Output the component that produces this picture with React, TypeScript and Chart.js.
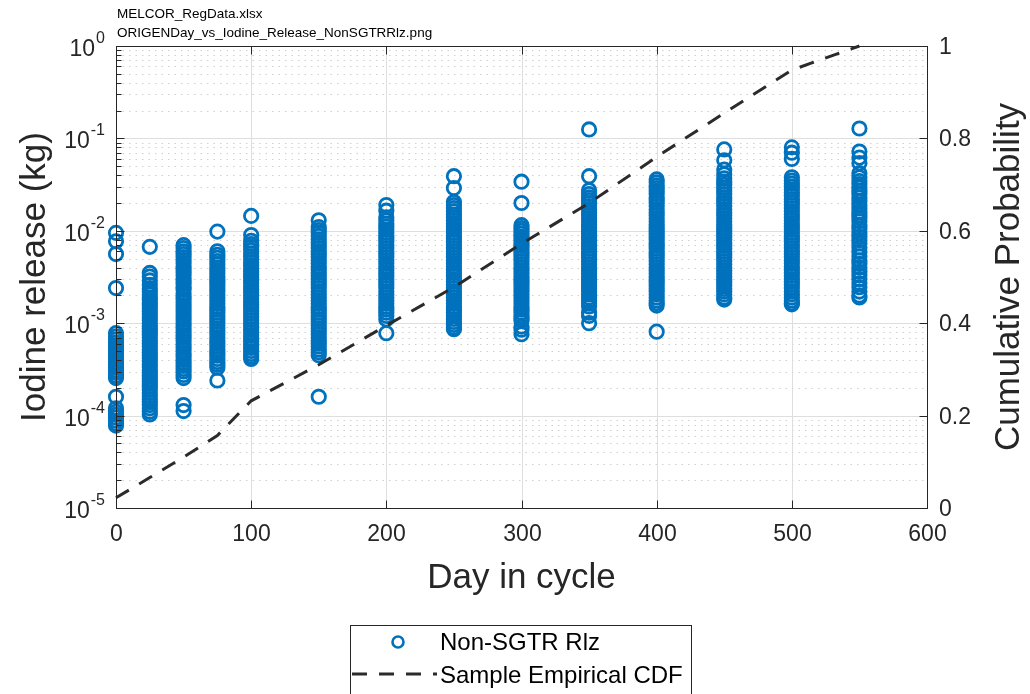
import React, { useEffect, useRef } from 'react';
import { Chart, registerables } from 'chart.js';

Chart.register(...registerables);

// ---------------- data ----------------
const days = [0, 25, 50, 75, 100, 150, 200, 250, 300, 350, 400, 450, 500, 550];

const rel000 = [9.5e-3, 7.7e-3, 5.6e-3, 2.4e-3, 7.8e-4, 7.2e-4, 6.7e-4, 6.2e-4, 5.8e-4, 5.4e-4, 5.0e-4, 4.7e-4, 4.4e-4, 4.1e-4, 3.8e-4, 3.55e-4, 3.3e-4, 3.1e-4, 2.9e-4, 2.7e-4, 2.55e-4, 1.6e-4, 1.2e-4, 1.1e-4, 1.02e-4, 9.5e-5, 8.8e-5, 8.2e-5, 7.8e-5];
const rel025 = [6.7e-3, 3.5e-3, 3.2e-3, 2.9e-3, 2.6e-3, 2.35e-3, 2.2e-3, 2.05e-3, 1.9e-3, 1.78e-3, 1.65e-3, 1.55e-3, 1.45e-3, 1.35e-3, 1.25e-3, 1.16e-3, 1.08e-3, 1.0e-3, 9.3e-4, 8.7e-4, 8.1e-4, 7.5e-4, 7.0e-4, 6.5e-4, 6.0e-4, 5.6e-4, 5.2e-4, 4.8e-4, 4.5e-4, 4.2e-4, 3.9e-4, 3.6e-4, 3.35e-4, 3.1e-4, 2.9e-4, 2.7e-4, 2.5e-4, 2.35e-4, 2.2e-4, 2.05e-4, 1.9e-4, 1.75e-4, 1.62e-4, 1.5e-4, 1.4e-4, 1.3e-4, 1.2e-4, 1.1e-4, 1.03e-4];
const rel050 = [7.0e-3, 6.5e-3, 6.0e-3, 5.6e-3, 5.2e-3, 4.8e-3, 4.45e-3, 4.1e-3, 3.8e-3, 3.55e-3, 3.3e-3, 3.05e-3, 2.85e-3, 2.65e-3, 2.45e-3, 2.3e-3, 2.1e-3, 1.95e-3, 1.8e-3, 1.68e-3, 1.56e-3, 1.45e-3, 1.35e-3, 1.25e-3, 1.16e-3, 1.08e-3, 1.0e-3, 9.3e-4, 8.6e-4, 8.0e-4, 7.4e-4, 6.9e-4, 6.4e-4, 5.9e-4, 5.5e-4, 5.1e-4, 4.7e-4, 4.35e-4, 4.0e-4, 3.7e-4, 3.45e-4, 3.2e-4, 3.0e-4, 2.75e-4, 2.55e-4, 1.3e-4, 1.12e-4];
const rel075 = [9.8e-3, 6.0e-3, 5.5e-3, 5.1e-3, 4.7e-3, 4.35e-3, 4.0e-3, 3.7e-3, 3.45e-3, 3.2e-3, 2.95e-3, 2.75e-3, 2.55e-3, 2.35e-3, 2.2e-3, 2.05e-3, 1.9e-3, 1.76e-3, 1.63e-3, 1.5e-3, 1.4e-3, 1.3e-3, 1.2e-3, 1.11e-3, 1.03e-3, 9.5e-4, 8.8e-4, 8.2e-4, 7.6e-4, 7.0e-4, 6.5e-4, 6.0e-4, 5.6e-4, 5.2e-4, 4.8e-4, 4.45e-4, 4.1e-4, 3.8e-4, 3.55e-4, 3.3e-4, 2.4e-4];
const rel100 = [1.45e-2, 9.0e-3, 7.8e-3, 7.2e-3, 6.7e-3, 6.2e-3, 5.7e-3, 5.3e-3, 4.9e-3, 4.55e-3, 4.2e-3, 3.9e-3, 3.6e-3, 3.35e-3, 3.1e-3, 2.9e-3, 2.7e-3, 2.5e-3, 2.3e-3, 2.15e-3, 2.0e-3, 1.85e-3, 1.7e-3, 1.58e-3, 1.47e-3, 1.36e-3, 1.26e-3, 1.17e-3, 1.08e-3, 1.0e-3, 9.3e-4, 8.6e-4, 8.0e-4, 7.4e-4, 6.8e-4, 6.3e-4, 5.8e-4, 5.4e-4, 5.0e-4, 4.65e-4, 4.35e-4, 4.1e-4];
const rel150 = [1.3e-2, 1.1e-2, 1.02e-2, 9.5e-3, 8.8e-3, 8.1e-3, 7.5e-3, 7.0e-3, 6.5e-3, 6.0e-3, 5.6e-3, 5.2e-3, 4.8e-3, 4.45e-3, 4.1e-3, 3.8e-3, 3.5e-3, 3.25e-3, 3.0e-3, 2.8e-3, 2.6e-3, 2.4e-3, 2.2e-3, 2.05e-3, 1.9e-3, 1.76e-3, 1.63e-3, 1.5e-3, 1.4e-3, 1.3e-3, 1.2e-3, 1.11e-3, 1.03e-3, 9.5e-4, 8.8e-4, 8.2e-4, 7.6e-4, 7.0e-4, 6.5e-4, 6.0e-4, 5.6e-4, 5.2e-4, 4.85e-4, 4.5e-4, 1.6e-4];
const rel200 = [1.9e-2, 1.65e-2, 1.4e-2, 1.3e-2, 1.2e-2, 1.11e-2, 1.03e-2, 9.5e-3, 8.8e-3, 8.2e-3, 7.6e-3, 7.0e-3, 6.5e-3, 6.0e-3, 5.6e-3, 5.2e-3, 4.8e-3, 4.45e-3, 4.1e-3, 3.8e-3, 3.5e-3, 3.25e-3, 3.0e-3, 2.8e-3, 2.6e-3, 2.4e-3, 2.2e-3, 2.05e-3, 1.9e-3, 1.76e-3, 1.63e-3, 1.5e-3, 1.4e-3, 1.3e-3, 1.2e-3, 1.1e-3, 7.8e-4];
const rel250 = [3.9e-2, 2.9e-2, 2.05e-2, 1.9e-2, 1.76e-2, 1.63e-2, 1.5e-2, 1.4e-2, 1.3e-2, 1.2e-2, 1.11e-2, 1.03e-2, 9.5e-3, 8.8e-3, 8.2e-3, 7.6e-3, 7.0e-3, 6.5e-3, 6.0e-3, 5.6e-3, 5.2e-3, 4.8e-3, 4.45e-3, 4.1e-3, 3.8e-3, 3.5e-3, 3.25e-3, 3.0e-3, 2.8e-3, 2.6e-3, 2.4e-3, 2.2e-3, 2.05e-3, 1.9e-3, 1.76e-3, 1.63e-3, 1.5e-3, 1.4e-3, 1.3e-3, 1.2e-3, 1.11e-3, 1.03e-3, 9.6e-4, 9.0e-4, 8.6e-4];
const rel300 = [3.4e-2, 2.0e-2, 1.15e-2, 1.07e-2, 1.0e-2, 9.3e-3, 8.6e-3, 8.0e-3, 7.4e-3, 6.9e-3, 6.4e-3, 5.9e-3, 5.5e-3, 5.1e-3, 4.7e-3, 4.35e-3, 4.0e-3, 3.7e-3, 3.45e-3, 3.2e-3, 2.95e-3, 2.75e-3, 2.55e-3, 2.35e-3, 2.2e-3, 2.05e-3, 1.9e-3, 1.76e-3, 1.63e-3, 1.5e-3, 1.4e-3, 1.3e-3, 1.2e-3, 1.12e-3, 1.06e-3, 9.2e-4, 8.5e-4, 7.6e-4];
const rel350 = [1.25e-1, 3.9e-2, 2.75e-2, 2.5e-2, 2.3e-2, 2.15e-2, 2.0e-2, 1.85e-2, 1.7e-2, 1.58e-2, 1.47e-2, 1.36e-2, 1.26e-2, 1.17e-2, 1.08e-2, 1.0e-2, 9.3e-3, 8.6e-3, 8.0e-3, 7.4e-3, 6.9e-3, 6.4e-3, 5.9e-3, 5.5e-3, 5.1e-3, 4.7e-3, 4.35e-3, 4.0e-3, 3.7e-3, 3.45e-3, 3.2e-3, 2.95e-3, 2.75e-3, 2.55e-3, 2.35e-3, 2.2e-3, 2.05e-3, 1.9e-3, 1.76e-3, 1.63e-3, 1.52e-3, 1.3e-3, 1.2e-3, 1.0e-3];
const rel400 = [3.6e-2, 3.35e-2, 3.1e-2, 2.9e-2, 2.7e-2, 2.5e-2, 2.3e-2, 2.15e-2, 2.0e-2, 1.85e-2, 1.7e-2, 1.58e-2, 1.47e-2, 1.36e-2, 1.26e-2, 1.17e-2, 1.08e-2, 1.0e-2, 9.3e-3, 8.6e-3, 8.0e-3, 7.4e-3, 6.9e-3, 6.4e-3, 5.9e-3, 5.5e-3, 5.1e-3, 4.7e-3, 4.35e-3, 4.0e-3, 3.7e-3, 3.45e-3, 3.2e-3, 2.95e-3, 2.75e-3, 2.55e-3, 2.35e-3, 2.2e-3, 2.05e-3, 1.9e-3, 1.76e-3, 1.65e-3, 1.55e-3, 8.1e-4];
const rel450 = [7.6e-2, 5.8e-2, 4.6e-2, 4.1e-2, 3.7e-2, 3.4e-2, 3.15e-2, 2.9e-2, 2.7e-2, 2.5e-2, 2.3e-2, 2.15e-2, 2.0e-2, 1.85e-2, 1.7e-2, 1.58e-2, 1.47e-2, 1.36e-2, 1.26e-2, 1.17e-2, 1.08e-2, 1.0e-2, 9.3e-3, 8.6e-3, 8.0e-3, 7.4e-3, 6.9e-3, 6.4e-3, 5.9e-3, 5.5e-3, 5.1e-3, 4.7e-3, 4.35e-3, 4.0e-3, 3.7e-3, 3.45e-3, 3.2e-3, 2.95e-3, 2.75e-3, 2.55e-3, 2.35e-3, 2.2e-3, 2.05e-3, 1.9e-3, 1.8e-3];
const rel500 = [8.0e-2, 7.0e-2, 6.0e-2, 3.8e-2, 3.5e-2, 3.25e-2, 3.0e-2, 2.8e-2, 2.6e-2, 2.4e-2, 2.2e-2, 2.05e-2, 1.9e-2, 1.76e-2, 1.63e-2, 1.5e-2, 1.4e-2, 1.3e-2, 1.2e-2, 1.11e-2, 1.03e-2, 9.5e-3, 8.8e-3, 8.2e-3, 7.6e-3, 7.0e-3, 6.5e-3, 6.0e-3, 5.6e-3, 5.2e-3, 4.8e-3, 4.45e-3, 4.1e-3, 3.8e-3, 3.5e-3, 3.25e-3, 3.0e-3, 2.8e-3, 2.6e-3, 2.4e-3, 2.2e-3, 2.05e-3, 1.9e-3, 1.76e-3, 1.65e-3, 1.6e-3];
const rel550 = [1.28e-1, 7.2e-2, 6.2e-2, 5.4e-2, 4.2e-2, 3.8e-2, 3.45e-2, 3.2e-2, 2.95e-2, 2.7e-2, 2.5e-2, 2.3e-2, 2.1e-2, 1.9e-2, 1.75e-2, 1.6e-2, 1.48e-2, 1.38e-2, 1.27e-2, 1.15e-2, 1.05e-2, 9.5e-3, 8.6e-3, 7.9e-3, 7.3e-3, 6.6e-3, 5.9e-3, 5.3e-3, 4.8e-3, 4.4e-3, 4.0e-3, 3.6e-3, 3.3e-3, 3.0e-3, 2.7e-3, 2.45e-3, 2.2e-3, 2.0e-3, 1.9e-3];

const releaseByDay = [rel000, rel025, rel050, rel075, rel100, rel150, rel200, rel250, rel300, rel350, rel400, rel450, rel500, rel550];

const cdfProb = [0.022, 0.066, 0.11, 0.157, 0.232, 0.31, 0.395, 0.478, 0.572, 0.66, 0.76, 0.855, 0.948, 1.0];

const xTickValues = [0, 100, 200, 300, 400, 500, 600];
const xTickLabels = ['0', '100', '200', '300', '400', '500', '600'];
const logTickValues = [1e-5, 1e-4, 1e-3, 1e-2, 1e-1, 1];
const logTickExponents = ['-5', '-4', '-3', '-2', '-1', '0'];
const minorMultipliers = [2, 3, 4, 5, 6, 7, 8, 9];
const probTickValues = [0, 0.2, 0.4, 0.6, 0.8, 1];
const probTickLabels = ['0', '0.2', '0.4', '0.6', '0.8', '1'];

const fileLines = ['MELCOR_RegData.xlsx', 'ORIGENDay_vs_Iodine_Release_NonSGTRRlz.png'];
const xTitle = 'Day in cycle';
const yTitle = 'Iodine release (kg)';
const y2Title = 'Cumulative Probability';
const legendLabels = ['Non-SGTR Rlz', 'Sample Empirical CDF'];

// ---------------- styles ----------------
const FONT = '"Liberation Sans", Arial, Helvetica, sans-serif';
const AX = '#262626';
const BLUE = '#0072BD';
const LINE = '#2b2b2b';
const DASH = [15, 12];

function hline(ctx: CanvasRenderingContext2D, x1: number, x2: number, y: number) {
  ctx.beginPath();
  ctx.moveTo(x1, y);
  ctx.lineTo(x2, y);
  ctx.stroke();
}
function vline(ctx: CanvasRenderingContext2D, x: number, y1: number, y2: number) {
  ctx.beginPath();
  ctx.moveTo(x, y1);
  ctx.lineTo(x, y2);
  ctx.stroke();
}
function text(ctx: CanvasRenderingContext2D, s: string, x: number, y: number, size: number, align: CanvasTextAlign, color = AX, rot = 0) {
  ctx.save();
  ctx.translate(x, y);
  if (rot) ctx.rotate(rot);
  ctx.font = `${size}px ${FONT}`;
  ctx.fillStyle = color;
  ctx.textAlign = align;
  ctx.textBaseline = 'middle';
  ctx.fillText(s, 0, 0);
  ctx.restore();
}
const snap = (v: number) => Math.round(v) + 0.5;

const matlabPlugin = {
  id: 'matlabAxes',
  beforeDatasetsDraw(chart: any) {
    const { ctx, chartArea: a, scales } = chart;
    const xs = scales.x;
    const ys = scales.y;
    ctx.save();
    // minor dotted grid (log axis)
    ctx.strokeStyle = '#d0d0d0';
    ctx.lineWidth = 1;
    ctx.setLineDash([1.5, 5]);
    for (let i = 0; i < logTickValues.length - 1; i++) {
      for (const m of minorMultipliers) {
        const py = snap(ys.getPixelForValue(logTickValues[i] * m));
        hline(ctx, a.left, a.right, py);
      }
    }
    // major grid
    ctx.setLineDash([]);
    ctx.strokeStyle = '#dedede';
    for (let i = 1; i < logTickValues.length - 1; i++) {
      hline(ctx, a.left, a.right, snap(ys.getPixelForValue(logTickValues[i])));
    }
    for (let i = 1; i < xTickValues.length - 1; i++) {
      vline(ctx, snap(xs.getPixelForValue(xTickValues[i])), a.top, a.bottom);
    }
    ctx.restore();
  },
  afterDraw(chart: any) {
    const { ctx, chartArea: a, scales } = chart;
    const xs = scales.x;
    const ys = scales.y;
    const y2 = scales.y2;
    ctx.save();
    ctx.setLineDash([]);
    ctx.strokeStyle = AX;
    ctx.lineWidth = 1;
    const L = snap(a.left), R = snap(a.right), T = snap(a.top), B = snap(a.bottom);
    // box
    ctx.strokeRect(L, T, R - L, B - T);
    // x ticks (bottom & top, inward)
    xTickValues.forEach((v, i) => {
      const px = snap(xs.getPixelForValue(v));
      vline(ctx, px, B, B - 8);
      vline(ctx, px, T, T + 8);
      text(ctx, xTickLabels[i], px, 535, 23, 'center');
    });
    // left log ticks
    logTickValues.forEach((v, i) => {
      const py = snap(ys.getPixelForValue(v));
      hline(ctx, L, L + 8, py);
      const exp = logTickExponents[i];
      ctx.font = `16px ${FONT}`;
      const ew = ctx.measureText(exp).width;
      const right = a.left - 11;
      text(ctx, exp, right, py - 8, 16, 'right');
      text(ctx, '10', right - ew - 1, py + 3, 23, 'right');
      if (i < logTickValues.length - 1) {
        for (const m of minorMultipliers) {
          const pm = snap(ys.getPixelForValue(v * m));
          hline(ctx, L, L + 5, pm);
        }
      }
    });
    // right prob ticks
    probTickValues.forEach((v, i) => {
      const py = snap(y2.getPixelForValue(v));
      hline(ctx, R, R - 8, py);
      text(ctx, probTickLabels[i], a.right + 12, py + 1, 23, 'left');
    });
    // axis titles
    text(ctx, xTitle, (a.left + a.right) / 2, 578, 35, 'center');
    text(ctx, yTitle, 35, (a.top + a.bottom) / 2, 35, 'center', AX, -Math.PI / 2);
    text(ctx, y2Title, 1009, (a.top + a.bottom) / 2, 35, 'center', AX, -Math.PI / 2);
    // file name header
    text(ctx, fileLines[0], a.left + 1, 14, 13.5, 'left', '#000');
    text(ctx, fileLines[1], a.left + 1, 33, 13.5, 'left', '#000');
    // legend
    ctx.strokeStyle = AX;
    ctx.lineWidth = 1;
    ctx.strokeRect(350.5, 625.5, 341, 90);
    ctx.strokeStyle = BLUE;
    ctx.lineWidth = 2.6;
    ctx.beginPath();
    ctx.arc(398, 642, 5.5, 0, Math.PI * 2);
    ctx.stroke();
    text(ctx, legendLabels[0], 440, 643, 24, 'left', '#000');
    ctx.strokeStyle = LINE;
    ctx.lineWidth = 3;
    ctx.setLineDash(DASH);
    hline(ctx, 352, 437, 674);
    ctx.setLineDash([]);
    text(ctx, legendLabels[1], 440, 676, 24, 'left', '#000');
    ctx.restore();
  },
};

export default function App() {
  const ref = useRef<HTMLCanvasElement>(null);
  useEffect(() => {
    if (!ref.current) return;
    const scatterPts: { x: number; y: number }[] = [];
    days.forEach((d, i) => {
      releaseByDay[i].forEach((v) => scatterPts.push({ x: d, y: v }));
    });
    const cdfPts = days.map((d, i) => ({ x: d, y: cdfProb[i] }));
    const chart = new Chart(ref.current, {
      type: 'scatter',
      data: {
        datasets: [
          {
            type: 'line',
            label: legendLabels[1],
            data: cdfPts,
            yAxisID: 'y2',
            borderColor: LINE,
            borderWidth: 3,
            borderDash: DASH,
            pointRadius: 0,
            fill: false,
            tension: 0,
            order: 0,
            clip: false,
          } as any,
          {
            type: 'scatter',
            label: legendLabels[0],
            data: scatterPts,
            yAxisID: 'y',
            pointStyle: 'circle',
            pointRadius: 6.7,
            pointBorderWidth: 2.8,
            borderColor: BLUE,
            backgroundColor: 'rgba(0,0,0,0)',
            pointBackgroundColor: 'rgba(0,0,0,0)',
            pointBorderColor: BLUE,
            order: 1,
            clip: false,
          } as any,
        ],
      },
      options: {
        animation: false,
        responsive: false,
        maintainAspectRatio: false,
        layout: { padding: { left: 116, right: 103, top: 46, bottom: 186 } },
        plugins: { legend: { display: false }, tooltip: { enabled: false } },
        events: [],
        scales: {
          x: { type: 'linear', min: 0, max: 600, display: false },
          y: { type: 'logarithmic', min: 1e-5, max: 1, display: false },
          y2: { type: 'linear', min: 0, max: 1, display: false, position: 'right' },
        },
      },
      plugins: [matlabPlugin],
    });
    return () => chart.destroy();
  }, []);
  return (
    <div style={{ position: 'fixed', left: 0, top: 0, width: 1030, height: 694, background: '#fff' }}>
      <canvas ref={ref} width={1030} height={694} style={{ display: 'block' }} />
    </div>
  );
}
